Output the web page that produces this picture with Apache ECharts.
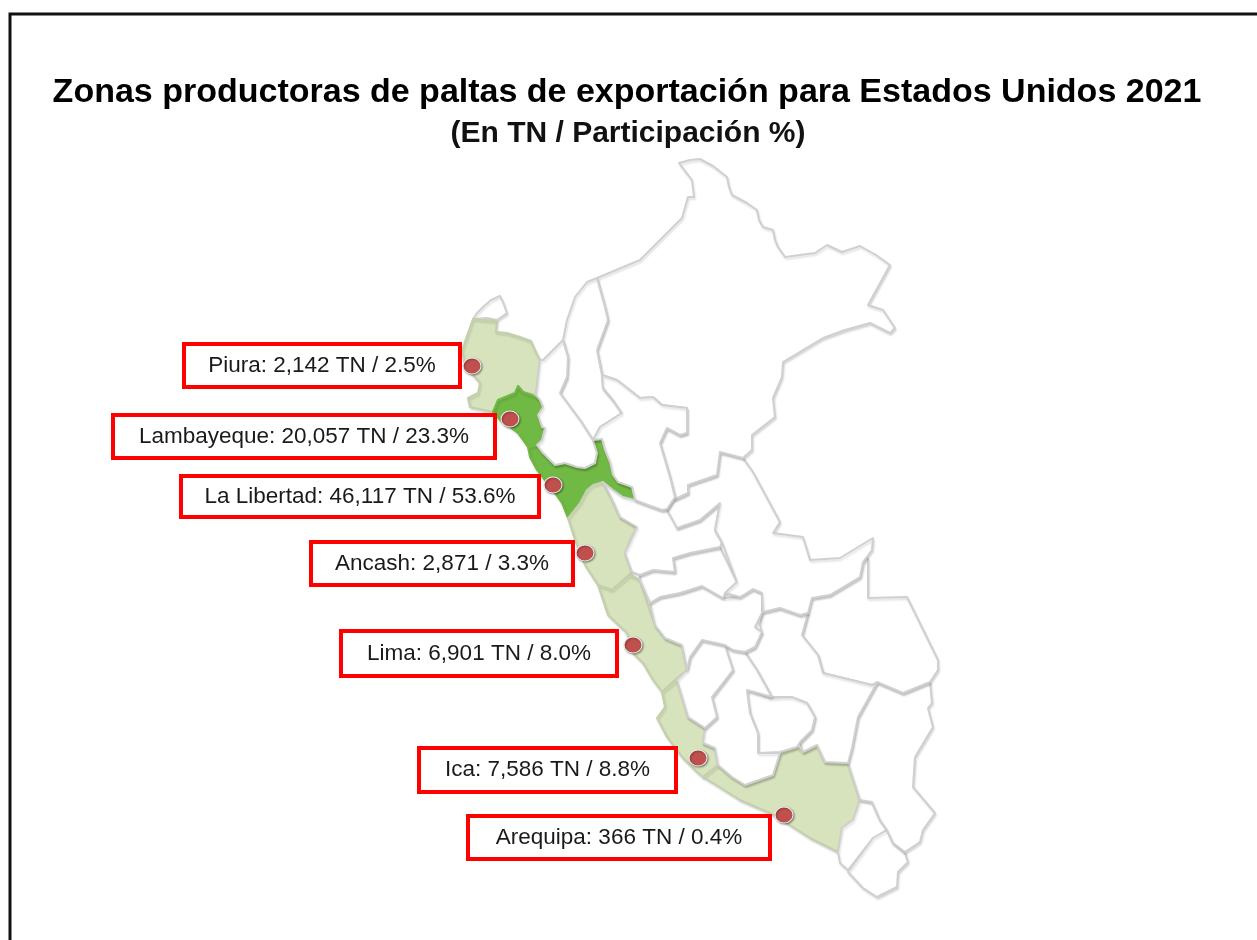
<!DOCTYPE html>
<html>
<head>
<meta charset="utf-8">
<title>Zonas productoras de paltas</title>
<script src="https://cdn.jsdelivr.net/npm/echarts@6/dist/echarts.min.js"></script>
<style>
    html, body {margin: 0; padding: 0; background: #fff; overflow: hidden;}
    #map {width: 1257px; height: 940px;}
</style>
</head>
<body>
<div id="map"></div>
<script>
// producing zones
const zones = ['Piura', 'Lambayeque', 'La Libertad', 'Ancash', 'Lima', 'Ica', 'Arequipa'];
const tons = ['2,142 TN', '20,057 TN', '46,117 TN', '2,871', '6,901 TN', '7,586 TN', '366 TN'];
const shares = ['2.5%', '23.3%', '53.6%', '3.3%', '8.0%', '8.8%', '0.4%'];
const topZones = ['Lambayeque', 'La Libertad'];

// where each zone's dot sits, in map units
const dotSpots = [[472, 366], [510, 419], [553, 485], [585, 553], [633, 645], [698, 758], [784, 815]];

// department outlines, map units (y grows southwards)
const tumbes = [[473, 319], [477, 313], [483, 307], [491, 300], [500, 296], [503, 302], [507, 313], [497, 320], [487, 318]];
const piura = [[473, 319], [497, 321], [496, 332], [507, 333], [520, 337], [531, 341], [535, 350], [540, 360], [538, 377], [536, 395], [523, 392], [518, 386], [515, 393], [498, 400], [493, 412], [470, 407], [468, 398], [478, 393], [480, 383], [475, 377], [465, 367], [462, 350], [468, 333]];
const lambayeque = [[518, 386], [523, 392], [532, 395], [540, 400], [543, 407], [538, 415], [542, 427], [545, 428], [542, 440], [537, 445], [528, 447], [518, 433], [510, 427], [502, 422], [493, 412], [498, 400], [515, 393]];
const laLibertad = [[528, 447], [537, 445], [542, 452], [550, 460], [555, 465], [565, 463], [577, 467], [585, 468], [595, 463], [597, 453], [593, 440], [602, 439], [605, 450], [610, 462], [613, 475], [618, 482], [632, 487], [635, 500], [623, 497], [613, 490], [603, 482], [593, 485], [587, 490], [580, 503], [568, 518], [562, 503], [555, 493], [547, 483], [537, 470], [530, 457]];
const ancash = [[568, 518], [580, 503], [587, 490], [593, 485], [603, 482], [611, 497], [620, 517], [637, 527], [630, 540], [625, 553], [632, 572], [612, 590], [598, 585], [585, 565], [575, 540]];
const lima = [[630, 575], [640, 580], [648, 605], [655, 625], [665, 638], [682, 645], [687, 670], [677, 678], [662, 692], [653, 680], [643, 663], [633, 653], [627, 633], [608, 615], [598, 585], [612, 590]];
const ica = [[662, 692], [677, 680], [683, 700], [688, 717], [705, 728], [703, 743], [715, 748], [718, 765], [703, 777], [697, 772], [682, 757], [667, 737], [657, 718], [665, 707]];
const arequipa = [[718, 765], [732, 777], [745, 785], [773, 775], [780, 753], [797, 747], [803, 752], [817, 745], [825, 762], [848, 763], [860, 800], [853, 820], [842, 828], [838, 852], [810, 838], [793, 827], [770, 813], [740, 800], [713, 783], [703, 777]];
const moquegua = [[860, 800], [872, 802], [880, 820], [887, 830], [873, 838], [848, 870], [840, 863], [838, 852], [842, 828], [853, 820]];
const tacna = [[887, 830], [893, 843], [905, 853], [908, 862], [898, 872], [897, 887], [877, 897], [863, 888], [848, 872], [873, 838]];
const puno = [[877, 682], [903, 693], [930, 682], [932, 703], [928, 708], [933, 727], [915, 757], [913, 787], [935, 813], [923, 830], [920, 842], [905, 852], [893, 843], [887, 830], [880, 820], [872, 802], [860, 800], [848, 763], [852, 748], [858, 717]];
const madreDeDios = [[868, 558], [868, 598], [907, 597], [938, 660], [938, 670], [930, 682], [903, 693], [877, 682], [872, 685], [823, 673], [818, 655], [802, 635], [808, 613], [812, 598], [830, 595], [860, 577], [863, 562]];
const cusco = [[745, 652], [757, 670], [772, 697], [790, 697], [807, 703], [815, 717], [812, 730], [800, 743], [803, 752], [817, 745], [825, 762], [848, 763], [852, 748], [858, 717], [877, 683], [872, 685], [823, 673], [818, 655], [802, 635], [808, 613], [800, 615], [780, 608], [763, 612], [760, 625], [762, 633], [755, 647]];
const apurimac = [[748, 690], [770, 698], [792, 697], [807, 703], [815, 717], [812, 730], [800, 742], [797, 747], [780, 752], [758, 753], [758, 733], [750, 713], [747, 697]];
const ayacucho = [[725, 647], [733, 670], [712, 697], [717, 717], [705, 728], [703, 743], [715, 748], [718, 765], [732, 777], [745, 785], [773, 775], [780, 753], [758, 753], [758, 733], [750, 713], [747, 690], [772, 697], [757, 670], [745, 652], [733, 650]];
const huancavelica = [[702, 640], [725, 645], [733, 670], [712, 697], [717, 717], [705, 728], [688, 717], [683, 700], [677, 680], [687, 670], [690, 657]];
const junin = [[650, 603], [660, 597], [680, 593], [702, 586], [723, 598], [740, 597], [753, 589], [762, 593], [762, 613], [755, 627], [762, 632], [755, 647], [745, 652], [733, 650], [725, 645], [702, 640], [690, 657], [687, 670], [682, 645], [665, 638], [655, 625]];
const pasco = [[640, 575], [653, 570], [675, 572], [673, 558], [690, 553], [720, 547], [737, 582], [725, 593], [723, 598], [702, 586], [680, 593], [660, 597], [650, 603], [640, 580]];
const huanuco = [[635, 500], [648, 505], [662, 510], [672, 510], [677, 528], [700, 520], [720, 503], [715, 530], [722, 542], [720, 547], [690, 553], [673, 558], [675, 572], [653, 570], [640, 575], [632, 572], [625, 553], [637, 527], [620, 517], [611, 497], [603, 482], [613, 490], [623, 497]];
const ucayali = [[667, 510], [673, 500], [688, 493], [687, 485], [717, 475], [720, 452], [743, 458], [753, 472], [780, 522], [773, 533], [803, 537], [810, 560], [840, 558], [873, 538], [872, 550], [863, 562], [860, 577], [830, 595], [812, 598], [808, 613], [800, 615], [780, 608], [763, 612], [762, 593], [753, 589], [740, 597], [725, 593], [737, 582], [722, 542], [715, 530], [720, 503], [700, 520], [677, 528]];
const loreto = [[597, 278], [640, 260], [682, 218], [688, 197], [694, 197], [692, 180], [679, 163], [690, 160], [700, 159], [713, 166], [727, 177], [729, 187], [732, 195], [747, 203], [757, 210], [759, 220], [763, 227], [773, 230], [775, 240], [778, 247], [785, 257], [815, 253], [827, 245], [842, 252], [860, 246], [876, 255], [890, 265], [868, 305], [883, 310], [895, 328], [890, 333], [870, 323], [845, 330], [823, 338], [783, 362], [782, 377], [773, 398], [775, 417], [752, 435], [752, 450], [743, 458], [720, 452], [717, 475], [688, 485], [688, 493], [673, 500], [667, 509], [675, 497], [670, 477], [660, 443], [667, 428], [680, 435], [687, 433], [687, 408], [662, 405], [653, 397], [640, 398], [617, 380], [602, 375], [597, 350], [608, 320], [605, 307]];
const amazonas = [[597, 278], [587, 282], [575, 297], [567, 320], [563, 340], [568, 357], [567, 377], [560, 393], [580, 420], [593, 440], [600, 427], [622, 413], [613, 400], [603, 388], [602, 375], [597, 350], [608, 320], [605, 307]];
const cajamarca = [[563, 340], [553, 350], [543, 360], [540, 360], [538, 377], [536, 395], [540, 400], [543, 407], [538, 415], [542, 427], [545, 428], [542, 440], [537, 445], [542, 452], [550, 460], [555, 465], [565, 463], [577, 467], [585, 468], [595, 463], [597, 453], [593, 440], [580, 420], [560, 393], [567, 377], [568, 357]];
const sanMartin = [[602, 375], [617, 380], [640, 398], [653, 397], [662, 405], [687, 408], [687, 433], [680, 435], [667, 428], [660, 443], [670, 477], [675, 497], [667, 509], [662, 510], [648, 505], [635, 500], [632, 487], [618, 482], [613, 475], [610, 462], [605, 450], [602, 439], [593, 440], [600, 427], [622, 413], [613, 400], [603, 388]];

const outlines = {
    Tumbes: tumbes, Piura: piura, Lambayeque: lambayeque, 'La Libertad': laLibertad, Ancash: ancash,
    Lima: lima, Ica: ica, Arequipa: arequipa, Moquegua: moquegua, Tacna: tacna, Puno: puno,
    'Madre de Dios': madreDeDios, Cusco: cusco, Apurimac: apurimac, Ayacucho: ayacucho,
    Huancavelica: huancavelica, Junin: junin, Pasco: pasco, Huanuco: huanuco, Ucayali: ucayali,
    Loreto: loreto, Amazonas: amazonas, Cajamarca: cajamarca, 'San Martin': sanMartin
};

// red label boxes: left, top, width, height in pixels
const boxes = [[184, 344, 276, 43], [113, 415, 382, 43], [181, 476, 358, 41], [311, 542, 262, 43], [341, 631, 276, 45], [419, 748, 257, 44], [468, 816, 302, 43]];

let features = [];
for (let name in outlines) {
    let ring = outlines[name].map(function (p) { return [p[0], -p[1]]; });
    ring.push(ring[0]);
    features.push({
        type: 'Feature',
        properties: {name: name},
        geometry: {type: 'Polygon', coordinates: [ring]}
    });
}
echarts.registerMap('peru', {type: 'FeatureCollection', features: features});

let chart = echarts.init(document.getElementById('map'));
chart.setOption({
    animation: false,
    backgroundColor: '#fff',
    title: [
        {
            text: 'Zonas productoras de paltas de exportación para Estados Unidos 2021',
            left: 622,
            top: 71,
            textAlign: 'center',
            textStyle: {fontFamily: 'Liberation Sans', fontSize: 34, fontWeight: 'bold', color: '#000'}
        },
        {
            text: '(En TN / Participación %)',
            left: 623,
            top: 114,
            textAlign: 'center',
            textStyle: {fontFamily: 'Liberation Sans', fontSize: 30, fontWeight: 'bold', color: '#111'}
        }
    ],
    graphic: [{
        type: 'rect',
        silent: true,
        shape: {x: 10, y: 14, width: 1400, height: 1100},
        style: {fill: null, stroke: '#111', lineWidth: 3}
    }],
    geo: {
        map: 'peru',
        roam: false,
        silent: true,
        aspectScale: 1,
        left: 0,
        top: 0,
        width: 1257,
        height: 940,
        boundingCoords: [[0, 0], [1257, -940]],
        label: {show: false},
        itemStyle: {
            areaColor: '#fff',
            borderColor: '#d0d0d0',
            borderWidth: 2,
            borderJoin: 'round',
            shadowColor: 'rgba(0,0,0,0.12)',
            shadowBlur: 2,
            shadowOffsetX: 1,
            shadowOffsetY: 2
        },
        regions: zones.map(function (z) {
            return {
                name: z,
                itemStyle: {
                    areaColor: topZones.indexOf(z) >= 0 ? '#70b944' : '#d7e3bc',
                    borderColor: topZones.indexOf(z) >= 0 ? '#70b944' : '#c4cfae'
                }
            };
        })
    },
    series: [{
        type: 'scatter',
        coordinateSystem: 'geo',
        silent: true,
        symbolSize: [18, 16],
        itemStyle: {
            opacity: 1,
            color: '#c0504d',
            borderColor: '#ececec',
            borderWidth: 1,
            shadowColor: 'rgba(0,0,0,0.4)',
            shadowBlur: 2,
            shadowOffsetX: 1,
            shadowOffsetY: 1
        },
        data: zones.map(function (z, i) {
            let b = boxes[i];
            let spot = dotSpots[i];
            return {
                name: z,
                value: [spot[0], -spot[1]],
                label: {
                    show: true,
                    position: 'inside',
                    offset: [b[0] + b[2] / 2 - spot[0], b[1] + b[3] / 2 - spot[1]],
                    formatter: z + ': ' + tons[i] + ' / ' + shares[i],
                    width: b[2] - 4,
                    height: b[3] - 4,
                    lineHeight: b[3] - 4,
                    align: 'center',
                    verticalAlign: 'middle',
                    backgroundColor: '#fff',
                    borderColor: '#f00',
                    borderWidth: 4,
                    fontFamily: 'Liberation Sans',
                    fontSize: 22.5,
                    color: '#1a1a1a'
                }
            };
        })
    }]
});
</script>
</body>
</html>
